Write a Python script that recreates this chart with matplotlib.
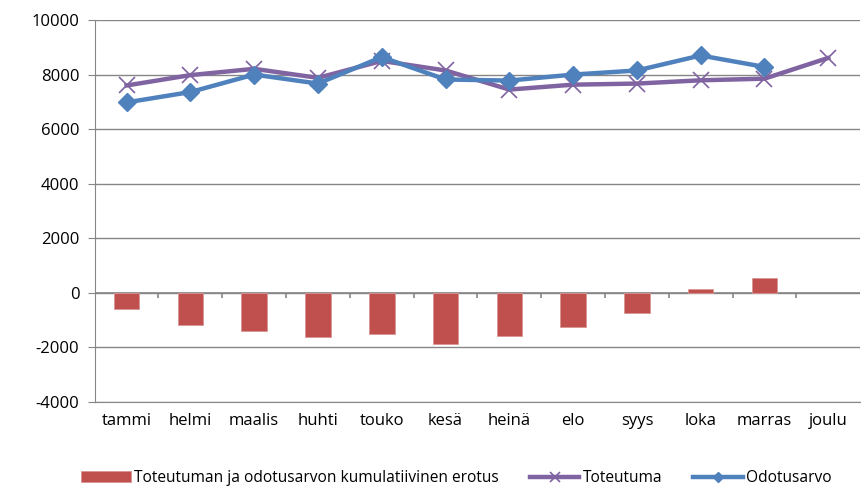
import matplotlib.pyplot as plt
import numpy as np

plt.rcParams['font.family'] = ['Open Sans', 'DejaVu Sans']
plt.rcParams['axes.unicode_minus'] = False

# kuukaudet ja arvot (luettu kuvasta)
kuukaudet = ['tammi', 'helmi', 'maalis', 'huhti', 'touko', 'kesä',
             'heinä', 'elo', 'syys', 'loka', 'marras', 'joulu']
erotus = [-580, -1190, -1390, -1630, -1500, -1870,
          -1590, -1250, -750, 130, 550, np.nan]
toteutuma = [7600, 7980, 8210, 7880, 8500, 8150,
             7450, 7630, 7670, 7790, 7850, 8610]
odotusarvo = [6980, 7360, 8000, 7670, 8640, 7820,
              7780, 8000, 8150, 8700, 8280, np.nan]

x = np.arange(len(kuukaudet))

fig = plt.figure(figsize=(8.61, 5.0), dpi=100)
ax = fig.add_axes([0.110, 0.196, 0.889, 0.764])

grid_c = '#868686'
ax.set_ylim(-4000, 10000)
ax.set_xlim(-0.5, len(kuukaudet) - 0.5)
ax.set_yticks(np.arange(-4000, 10001, 2000))
ax.yaxis.grid(True, color=grid_c, linewidth=1)
ax.set_axisbelow(True)
for s in ['top', 'right']:
    ax.spines[s].set_visible(False)
ax.spines['left'].set_color(grid_c)
ax.spines['bottom'].set_color(grid_c)
ax.tick_params(axis='y', length=5, color=grid_c, labelsize=12, pad=6)
ax.tick_params(axis='x', length=0, labelsize=12, pad=8)
ax.set_xticks(x)
ax.set_xticklabels(kuukaudet)

# vaaka-akseli nollassa ja jakoviivat kuukausien välissä
ax.axhline(0, color=grid_c, linewidth=1.2, zorder=1)
ax.vlines(x[:-1] + 0.5, -200, 0, color=grid_c, linewidth=1.2, zorder=1)

bars = ax.bar(x, erotus, width=0.4, color='#C0504D', edgecolor='#D99694',
              linewidth=0.6, zorder=2,
              label='Toteutuman ja odotusarvon kumulatiivinen erotus')
l1, = ax.plot(x, toteutuma, color='#8064A2', linewidth=3.2, marker='x',
              markersize=11, markeredgewidth=1.2, zorder=3, label='Toteutuma')
l2, = ax.plot(x, odotusarvo, color='#4F81BD', linewidth=3.2, marker='D',
              markersize=9, zorder=4, label='Odotusarvo')

fig.legend(handles=[bars, l1, l2], loc='lower center', ncol=3,
           bbox_to_anchor=(0.53, 0.0), frameon=False, fontsize=11.2,
           handlelength=3.2, handletextpad=0.2, columnspacing=2.0,
           markerscale=0.6)

fig.savefig('out.png', dpi=100)
